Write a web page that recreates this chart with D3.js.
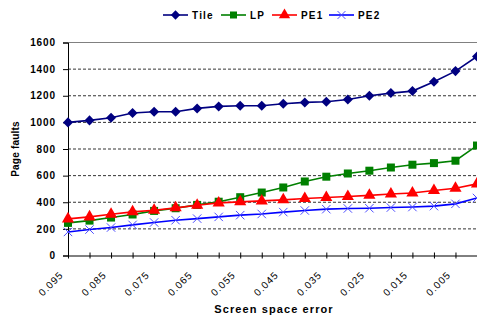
<!DOCTYPE html>
<html>
<head>
<meta charset="utf-8">
<script src="https://cdnjs.cloudflare.com/ajax/libs/d3/7.8.5/d3.min.js"></script>
<style>
    * { margin: 0; padding: 0; }
    body { background: #fff; }
    text { font-family: "Liberation Sans", Arial, sans-serif; }
</style>
</head>
<body>
<script>
// categories (screen space error), left to right
var categories = ["0.095","0.090","0.085","0.080","0.075","0.070","0.065","0.060","0.055","0.050",
                  "0.045","0.040","0.035","0.030","0.025","0.020","0.015","0.010","0.005","0.000"];
var xTickLabels = ["0.095","0.085","0.075","0.065","0.055","0.045","0.035","0.025","0.015","0.005"];
var yTicks = [0, 200, 400, 600, 800, 1000, 1200, 1400, 1600];

var tileValues = [1000, 1015, 1035, 1070, 1080, 1080, 1105, 1120, 1125, 1125,
                  1140, 1150, 1155, 1172, 1200, 1220, 1235, 1305, 1385, 1495];
var lpValues   = [245, 262, 285, 308, 335, 355, 380, 404, 438, 473,
                  511, 556, 592, 616, 637, 661, 682, 694, 712, 826];
var pe1Values  = [275, 290, 310, 328, 340, 358, 378, 395, 403, 410,
                  418, 428, 436, 443, 452, 462, 470, 488, 505, 538];
var pe2Values  = [177, 195, 210, 230, 248, 265, 277, 290, 303, 312,
                  326, 338, 348, 353, 355, 360, 364, 371, 388, 432];

var seriesNames = ["Tile", "LP", "PE1", "PE2"];
var seriesColors = ["#000080", "#008000", "#ff0000", "#0000ff"];
var seriesShapes = ["diamond", "square", "triangle", "cross"];
var seriesValues = [tileValues, lpValues, pe1Values, pe2Values];

var W = 477, H = 321;
var plotLeft = 68, plotRight = 477, plotTop = 42.5, plotBottom = 255.5;

var svg = d3.select("body").append("svg")
    .attr("width", W)
    .attr("height", H);

var x = d3.scalePoint().domain(categories).range([plotLeft, plotRight]);
var y = d3.scaleLinear().domain([0, 1600]).range([plotBottom, plotTop]);

// gridlines
svg.append("g")
    .selectAll("line")
    .data(yTicks.filter(function(d) { return d > 0 && d < 1600; }))
    .enter().append("line")
    .attr("x1", plotLeft).attr("x2", plotRight)
    .attr("y1", function(d) { return y(d); })
    .attr("y2", function(d) { return y(d); })
    .attr("stroke", "#333")
    .attr("stroke-width", 1)
    .attr("stroke-dasharray", "3,2");

// top border of plot area
svg.append("line")
    .attr("x1", plotLeft).attr("x2", plotRight)
    .attr("y1", y(1600)).attr("y2", y(1600))
    .attr("stroke", "#808080");

// y axis
var yAxis = d3.axisLeft(y).tickValues(yTicks).tickFormat(d3.format("d")).tickSize(5).tickPadding(7);
var gy = svg.append("g")
    .attr("transform", "translate(" + plotLeft + ",0)")
    .call(yAxis);
gy.select(".domain").attr("stroke", "#000");
gy.selectAll("text")
    .style("font-size", "10px")
    .style("font-weight", "bold")
    .style("letter-spacing", "0.9px")
    .attr("fill", "#000");

// x axis (ticks cross the axis line), labels drawn separately below
var xAxis = d3.axisBottom(x)
    .tickSizeInner(3)
    .tickSizeOuter(0)
    .tickFormat("");
var gx = svg.append("g")
    .attr("transform", "translate(0," + plotBottom + ")")
    .call(xAxis);
gx.select(".domain").attr("stroke", "#000");
gx.selectAll(".tick line").attr("y1", -3).attr("stroke", "#000");

svg.append("g")
    .selectAll("text")
    .data(xTickLabels)
    .enter().append("text")
    .attr("transform", function(d) {
        return "translate(" + (x(d) - 4) + "," + (plotBottom + 20) + ") rotate(-45)";
    })
    .attr("text-anchor", "end")
    .style("font-size", "10px")
    .style("letter-spacing", "1px")
    .text(function(d) { return d; });

// axis titles
svg.append("text")
    .attr("x", 274).attr("y", 313)
    .attr("text-anchor", "middle")
    .style("font-size", "11px")
    .style("font-weight", "bold")
    .style("letter-spacing", "1.1px")
    .text("Screen space error");

svg.append("text")
    .attr("transform", "translate(19,149) rotate(-90)")
    .attr("text-anchor", "middle")
    .style("font-size", "10px")
    .style("font-weight", "bold")
    .style("letter-spacing", "0.2px")
    .text("Page faults");

// marker drawing
function drawMarker(g, shape, color, size) {
    if (shape === "diamond") {
        g.append("path").attr("d", d3.symbol(d3.symbolDiamond2, size * 8)())
            .attr("fill", color);
    } else if (shape === "square") {
        g.append("rect").attr("x", -size / 2).attr("y", -size / 2)
            .attr("width", size).attr("height", size).attr("fill", color);
    } else if (shape === "triangle") {
        g.append("path").attr("d", d3.symbol(d3.symbolTriangle, size * 8)()).attr("fill", color);
    } else {
        g.append("path").attr("d", d3.symbol(d3.symbolX, size * 6)())
            .attr("stroke", "#4d4dff").attr("stroke-width", 1).attr("fill", "none");
    }
}

var line = d3.line()
    .x(function(d, i) { return x(categories[i]); })
    .y(function(d) { return y(d); });

seriesValues.forEach(function(vals, s) {
    svg.append("path")
        .datum(vals)
        .attr("d", line)
        .attr("fill", "none")
        .attr("stroke", seriesColors[s])
        .attr("stroke-width", 1.6);
    vals.forEach(function(v, i) {
        var g = svg.append("g")
            .attr("transform", "translate(" + x(categories[i]) + "," + y(v) + ")");
        drawMarker(g, seriesShapes[s], seriesColors[s], 8);
    });
});

// legend
var legendX = [163, 221, 272, 329];
seriesNames.forEach(function(name, s) {
    var g = svg.append("g").attr("transform", "translate(" + legendX[s] + ",15)");
    g.append("line").attr("x1", 0).attr("x2", 25).attr("y1", 0).attr("y2", 0)
        .attr("stroke", seriesColors[s]).attr("stroke-width", 1.6);
    var m = g.append("g").attr("transform", "translate(12.5,0)");
    drawMarker(m, seriesShapes[s], seriesColors[s], 7);
    g.append("text").attr("x", 29).attr("y", 3.6)
        .style("font-size", "10px")
        .style("font-weight", "bold")
        .style("letter-spacing", "1.2px")
        .text(name);
});
</script>
</body>
</html>
